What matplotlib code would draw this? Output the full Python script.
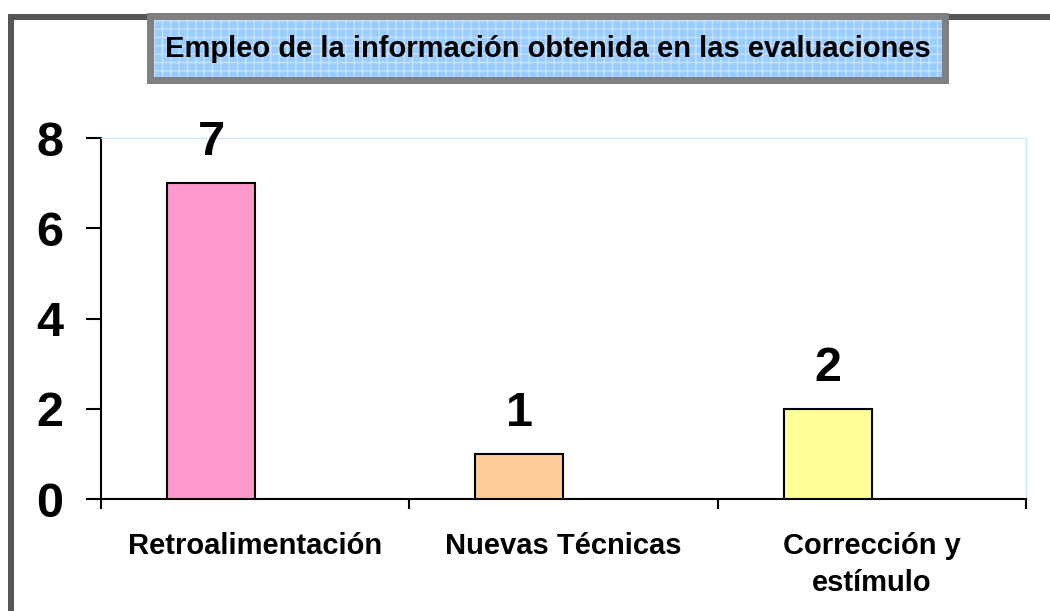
import matplotlib.pyplot as plt
from matplotlib.patches import Rectangle

categories = ["Retroalimentación", "Nuevas Técnicas", "Corrección y\nestímulo"]
values = [7, 1, 2]
colors = ["#ff99cc", "#ffcc99", "#ffff99"]
yticks = [0, 2, 4, 6, 8]
title = "Empleo de la información obtenida en las evaluaciones"

plt.rcParams['font.family'] = ['Liberation Sans', 'DejaVu Sans']
plt.rcParams['font.weight'] = 'bold'
plt.rcParams['hatch.linewidth'] = 1.0

fig = plt.figure(figsize=(10.5, 6.11), dpi=100)
ax = fig.add_axes([0.0962, 0.1833, 0.8809, 0.5908])

# bars sit on the left half of each category (Excel style)
bar_w = 0.286
x = list(range(len(categories)))
bars = ax.bar([i - bar_w / 2 for i in x], values, width=bar_w, color=colors,
              edgecolor="black", linewidth=1.5, zorder=3)
for b, v in zip(bars, values):
    ax.annotate(str(v), (b.get_x() + b.get_width() / 2, v), xytext=(0, 13),
                textcoords="offset points", ha="center", va="bottom",
                fontsize=35, fontweight="bold")

ax.set_xlim(-0.5, 2.5)
ax.set_ylim(0, 8)
ax.set_yticks(yticks)
ax.set_yticklabels([str(t) for t in yticks], fontsize=35, fontweight="bold")
ax.tick_params(axis="y", length=11, width=1.5, direction="out", pad=16)

ax.set_xticks([-0.5, 0.5, 1.5, 2.5])
ax.set_xticklabels([])
ax.tick_params(axis="x", which="major", length=7, width=1.5, direction="out")
ax.set_xticks(x, minor=True)
ax.set_xticklabels(categories, minor=True, fontsize=21, fontweight="bold",
                   linespacing=1.4)
ax.tick_params(axis="x", which="minor", length=0, pad=24)

for s in ["left", "bottom"]:
    ax.spines[s].set_linewidth(1.5)
for s in ["top", "right"]:
    ax.spines[s].set_color("#cfe6fb")
    ax.spines[s].set_linewidth(1)

# outer chart frame (top and left edges visible)
fig.patches.append(Rectangle((8 / 1050, 0), 6 / 1050, 597 / 611,
                             transform=fig.transFigure, facecolor="#555555",
                             edgecolor="none", zorder=0))
fig.patches.append(Rectangle((8 / 1050, 591 / 611), 1042 / 1050, 6 / 611,
                             transform=fig.transFigure, facecolor="#555555",
                             edgecolor="none", zorder=0))

# title box
bx, by, bw, bh = 150 / 1050, 531 / 611, 795 / 1050, 64 / 611
fig.patches.append(Rectangle((bx, by), bw, bh, transform=fig.transFigure,
                             facecolor="#99ccff", edgecolor="none", zorder=1))
fig.patches.append(Rectangle((bx, by), bw, bh, transform=fig.transFigure,
                             facecolor="none", edgecolor="#c8e2ff", hatch="++",
                             linewidth=0, zorder=2))
fig.patches.append(Rectangle((bx, by), bw, bh, transform=fig.transFigure,
                             facecolor="none", edgecolor="#808080",
                             linewidth=5, zorder=3))
fig.text(bx + bw / 2, by + bh / 2 - 0.002, title, ha="center", va="center",
         fontsize=21, fontweight="bold", zorder=4)

fig.savefig("out.png", dpi=100)
